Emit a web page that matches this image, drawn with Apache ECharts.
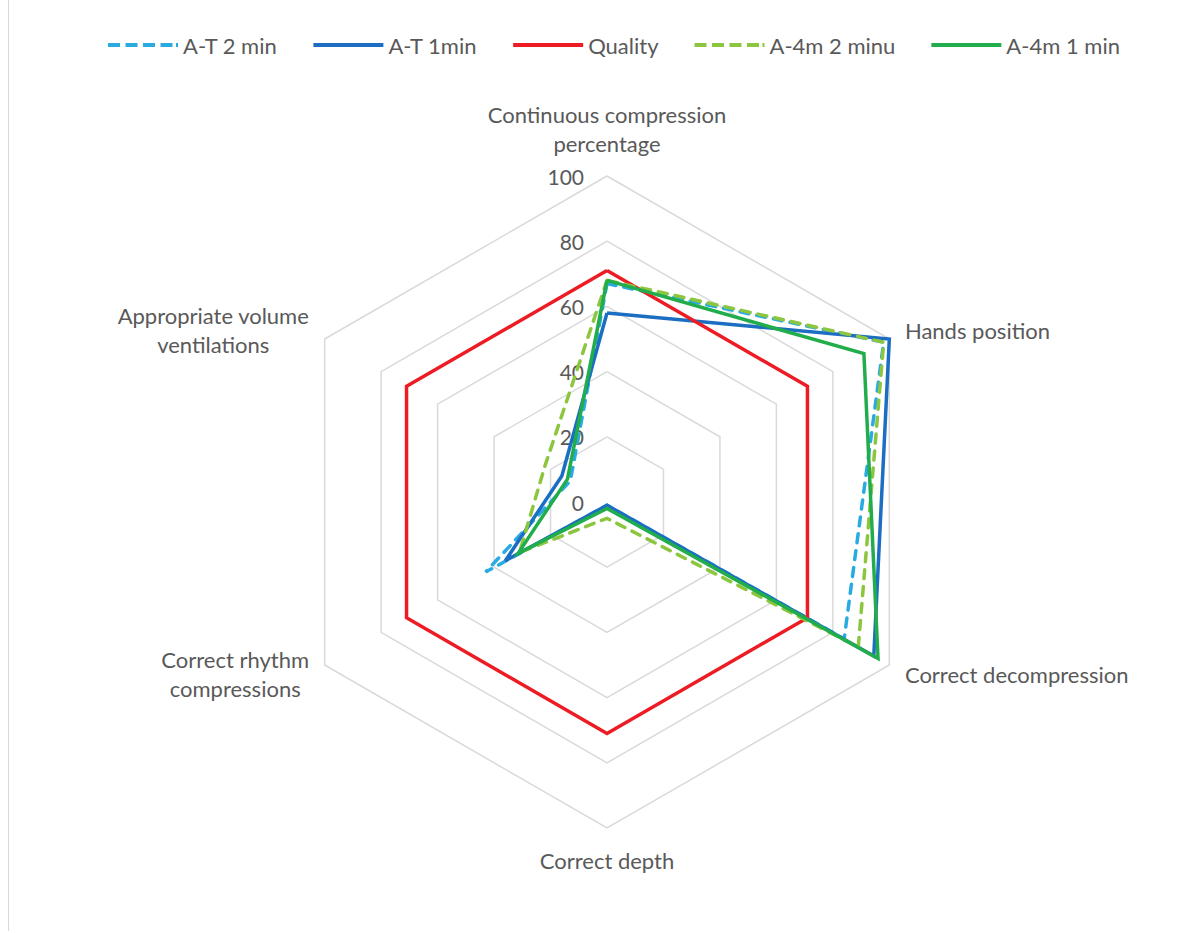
<!DOCTYPE html>
<html><head><meta charset="utf-8">
<script src="https://cdn.jsdelivr.net/npm/echarts@6/dist/echarts.min.js"></script>
<style>
html,body{margin:0;padding:0;background:#fff;overflow:hidden;}
#main{position:absolute;left:0;top:0;width:1201px;height:933px;}
#frame{position:absolute;left:8px;top:0;width:1192px;height:931px;border-left:1px solid #d9d9d9;pointer-events:none;}
</style>
</head><body><div id="main"></div><div id="frame"></div>
<script>
// Axis categories (ECharts radar places them counter-clockwise from the top)
const categories = [
  'Continuous compression\npercentage',
  'Appropriate volume\nventilations',
  'Correct rhythm\ncompressions',
  'Correct depth',
  'Correct decompression',
  'Hands position'
];
const tickValues = [0, 20, 40, 60, 80, 100];

const atTwoMin   = [67, 13, 43, 1, 84, 98];
const atOneMin   = [58, 16, 36, 1, 94.5, 100];
const quality    = [71, 71, 71, 71, 71, 71];
const a4mTwoMin  = [68, 22, 31, 5, 89, 98];
const a4mOneMin  = [68, 14, 31.5, 2, 96, 91];

const seriesNames = ['A-T 2 min', 'A-T 1min', 'Quality', 'A-4m 2 minu', 'A-4m 1 min'];
const seriesValues = [atTwoMin, atOneMin, quality, a4mTwoMin, a4mOneMin];
const seriesColors = ['#29abe2', '#1b6ec2', '#ed1c24', '#8cc63f', '#21ad4b'];
const seriesDashed = [true, false, false, true, false];

const FONT = 'Lato';
const GRAY = '#595959';
const dashIcon = 'path://M0,0h12v4h-12z M17.5,0h12v4h-12z M35,0h12v4h-12z M52.5,0h12v4h-12z M68,0h2v4h-2z';
const solidIcon = 'path://M0,0h70v4h-70z';

const chart = echarts.init(document.getElementById('main'), null, {renderer: 'svg'});
chart.setOption({
  backgroundColor: '#ffffff',
  animation: false,
  legend: {
    top: 29,
    left: 103,
    itemWidth: 70,
    itemHeight: 4,
    itemGap: 36,
    lineStyle: {width: 4},
    textStyle: {fontSize: 22, color: GRAY, fontFamily: FONT},
    data: seriesNames.map((n, i) => ({name: n, icon: seriesDashed[i] ? dashIcon : solidIcon}))
  },
  radar: {
    center: [607, 502],
    radius: 326,
    startAngle: 90,
    shape: 'polygon',
    splitNumber: 5,
    nameGap: 18,
    indicator: categories.map(n => ({name: n, min: 0, max: 100})),
    axisLine: {show: false},
    axisTick: {show: false},
    axisLabel: {show: false},
    splitArea: {show: false},
    splitLine: {lineStyle: {color: '#d9d9d9', width: 1.5}},
    axisName: {
      color: GRAY,
      fontSize: 22,
      fontFamily: FONT,
      lineHeight: 29,
      formatter: function (name) {
        return name.split('\n').map(s => '{c|' + s + '}').join('\n');
      },
      rich: {c: {align: 'center', fontSize: 22, fontFamily: FONT, color: GRAY, lineHeight: 29}}
    }
  },
  grid: {left: 607, top: 176, width: 1, height: 326},
  xAxis: {type: 'value', show: false},
  yAxis: {
    type: 'value', min: tickValues[0], max: tickValues[tickValues.length - 1],
    interval: tickValues[1] - tickValues[0],
    axisLine: {show: false}, axisTick: {show: false}, splitLine: {show: false},
    axisLabel: {fontSize: 21, color: GRAY, fontFamily: FONT, margin: 23}
  },
  series: [{
    type: 'radar',
    symbol: 'none',
    z: 3,
    data: seriesNames.map((n, i) => ({
      name: n,
      value: seriesValues[i],
      itemStyle: {color: seriesColors[i]},
      lineStyle: {
        color: seriesColors[i], width: 3.5,
        type: seriesDashed[i] ? [9, 8] : 'solid',
        cap: seriesDashed[i] ? 'round' : 'butt',
        join: 'miter'
      }
    }))
  }]
});
</script>
</body></html>
